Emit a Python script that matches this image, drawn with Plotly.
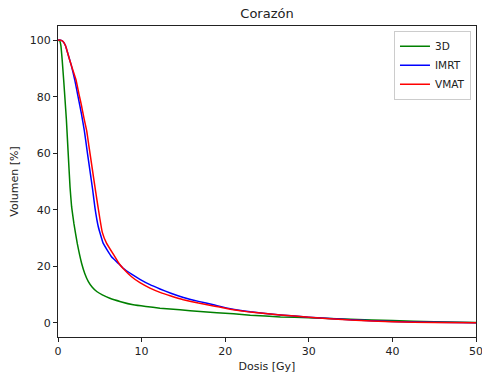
import plotly.graph_objects as go

dose_3d = [0, 0.2, 0.35, 0.5, 0.7, 0.84, 1.0, 1.2, 1.44, 1.63, 1.91, 2.31, 2.83, 3.2, 3.63, 4.1, 4.63, 5.3, 6.2, 7.5, 9.0, 10.5, 12.2, 14.6, 17, 21, 23, 26.6, 30, 35, 40, 45, 50]
vol_3d = [100, 99.8, 98, 93, 85, 79, 72, 61, 48, 41, 35, 28, 21, 17.5, 14.6, 12.6, 11.1, 9.9, 8.7, 7.5, 6.4, 5.8, 5.2, 4.6, 4.0, 3.2, 2.7, 2.1, 1.8, 1.3, 0.8, 0.4, 0.1]

dose_imrt = [0, 0.3, 0.6, 0.9, 1.2, 1.6, 2.0, 2.4, 2.8, 3.15, 3.5, 3.8, 4.15, 4.43, 4.82, 5.4, 6.4, 7.3, 7.8, 8.8, 9.8, 11, 12.2, 13.5, 15, 16.8, 18.6, 20.6, 23, 26.6, 30, 35, 40, 45, 50]
vol_imrt = [100, 100, 99.5, 98, 95, 91, 86, 80, 74, 68, 60.5, 54.3, 47, 40.5, 34, 28.2, 23.4, 20.8, 19.3, 17.2, 15.4, 13.5, 12.0, 10.5, 9.0, 7.6, 6.4, 5.0, 3.9, 2.8, 2.0, 1.1, 0.5, 0.2, 0.05]

dose_vmat = [0, 0.3, 0.6, 0.9, 1.2, 1.6, 2.15, 2.5, 2.8, 3.1, 3.43, 3.7, 4.0, 4.5, 5.0, 5.3, 5.8, 6.8, 7.3, 7.8, 8.8, 9.8, 11, 12.2, 13.5, 15, 16.8, 18.6, 20.6, 23, 26.6, 30, 35, 40, 45, 50]
vol_vmat = [100, 100, 99.5, 98, 95, 91, 86, 81, 77, 72.5, 68, 62.5, 56.5, 46.5, 37, 32, 28.2, 23.4, 21, 19.2, 16.3, 14.2, 12.3, 10.8, 9.5, 8.2, 7.0, 6.0, 4.8, 3.8, 2.8, 2.0, 1.0, 0.4, 0.1, 0.0]

series = [
    ("3D", dose_3d, vol_3d, "#008000"),
    ("IMRT", dose_imrt, vol_imrt, "#0000ff"),
    ("VMAT", dose_vmat, vol_vmat, "#ff0000"),
]

x_ticks = [0, 10, 20, 30, 40, 50]
y_ticks = [0, 20, 40, 60, 80, 100]

fig = go.Figure()
for name, x, y, c in series:
    fig.add_trace(go.Scatter(x=x, y=y, name=name, mode="lines",
                             line=dict(color=c, width=1.5, shape="spline", smoothing=0.3)))

font = "DejaVu Sans"
ink = "#222222"
fig.update_layout(
    width=482, height=381,
    margin=dict(l=58, r=6, t=26, b=44),
    paper_bgcolor="white", plot_bgcolor="white",
    font=dict(family=font, size=11, color=ink),
    title=dict(text="Corazón", x=0.5, xref="paper", y=1 - 13 / 381, yref="container",
               xanchor="center", yanchor="middle", font=dict(size=13, color=ink)),
    showlegend=True,
    legend=dict(x=0.988, y=0.985, xanchor="right", yanchor="top",
                bgcolor="rgba(255,255,255,0.8)", bordercolor="#cccccc", borderwidth=1,
                font=dict(size=10.5, color=ink), tracegroupgap=0, itemwidth=30),
    xaxis=dict(range=[0, 50], tickvals=x_ticks, ticks="outside", ticklen=4, tickcolor=ink,
               showline=True, linecolor=ink, linewidth=1, mirror=True, showgrid=False,
               zeroline=False, ticklabeloverflow="allow", automargin=False,
               title=dict(text="Dosis [Gy]", standoff=5, font=dict(size=11))),
    yaxis=dict(range=[-5, 105], tickvals=y_ticks, ticks="outside", ticklen=4, tickcolor=ink,
               showline=True, linecolor=ink, linewidth=1, mirror=True, showgrid=False,
               zeroline=False, automargin=False,
               title=dict(text="Volumen [%]", standoff=8, font=dict(size=11))),
)

fig.write_html("out.html")
